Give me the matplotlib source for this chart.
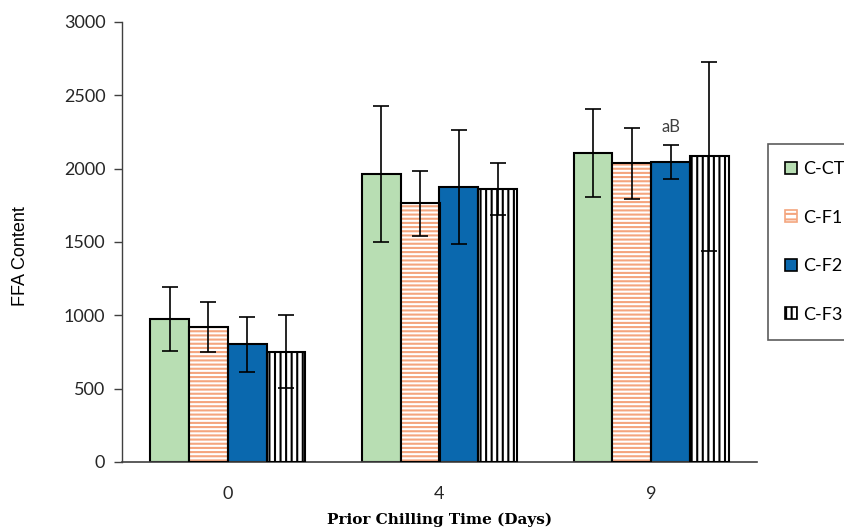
import numpy as np
import matplotlib
matplotlib.use("Agg")
import matplotlib.pyplot as plt
from matplotlib.patches import Patch

# Data
days = ["0", "4", "9"]
series = ["C-CT", "C-F1", "C-F2", "C-F3"]
ffa_ct = [975, 1963, 2108]
ffa_f1 = [922, 1764, 2036]
ffa_f2 = [802, 1873, 2045]
ffa_f3 = [752, 1863, 2084]
err_ct = [215, 462, 302]
err_f1 = [172, 223, 242]
err_f2 = [188, 388, 117]
err_f3 = [249, 178, 642]
note_text = "aB"

values = [ffa_ct, ffa_f1, ffa_f2, ffa_f3]
errors = [err_ct, err_f1, err_f2, err_f3]

# fill, hatch, hatch colour
styles = [
    ("#b8deb3", None, None),
    ("white", "----", "#f4a57e"),
    ("#0a68ae", None, None),
    ("white", "|||", "black"),
]

plt.rcParams["hatch.linewidth"] = 1.5

fig = plt.figure(figsize=(8.44, 5.30), dpi=100)
ax = fig.add_axes([122 / 844, 68 / 530, 635 / 844, 440 / 530])

x = np.arange(len(days))
width = 0.183
offsets = (np.arange(len(series)) - 1.5) * width

handles = []
for i, name in enumerate(series):
    fill, hatch, hcol = styles[i]
    pos = x + offsets[i]
    if hatch:
        # hatch drawn in its own colour, black outline on top
        ax.bar(pos, values[i], width, color=fill, edgecolor=hcol,
               hatch=hatch, linewidth=0, zorder=2)
        ax.bar(pos, values[i], width, fill=False, edgecolor="black",
               linewidth=1.5, zorder=3)
    else:
        ax.bar(pos, values[i], width, color=fill, edgecolor="black",
               linewidth=1.5, zorder=2)
    ax.errorbar(pos, values[i], yerr=errors[i], fmt="none", ecolor="black",
                elinewidth=1.2, capsize=6, capthick=1.2, zorder=4)
    handles.append(Patch(facecolor=fill, edgecolor="black" if not hatch else hcol,
                         hatch=hatch, linewidth=1.2, label=name))

handles[1] = Patch(facecolor="white", edgecolor="#f4a57e", hatch="---",
                   linewidth=1.2, label=series[1])

# annotation over C-F2 at day 9
ax.text(x[2] + offsets[2], ffa_f2[2] + err_f2[2] + 70, note_text,
        ha="center", va="bottom", fontsize=12, color="#404040",
        family="Lato")

ax.set_xlim(-0.5, 2.5)
ax.set_ylim(0, 3000)
ax.set_yticks(np.arange(0, 3001, 500))
ax.set_xticks(x)
ax.set_xticklabels(days)
for lab in ax.get_xticklabels() + ax.get_yticklabels():
    lab.set_family("Lato")
    lab.set_fontsize(13)
    lab.set_color("#262626")
ax.tick_params(axis="x", length=0, pad=17)
ax.tick_params(axis="y", length=6, width=1, direction="out", color="#404040", pad=6)

ax.spines["top"].set_visible(False)
ax.spines["right"].set_visible(False)
ax.spines["left"].set_color("#404040")
ax.spines["bottom"].set_color("#404040")
ax.spines["left"].set_linewidth(1)
ax.spines["bottom"].set_linewidth(1.2)

ax.set_ylabel("FFA Content", family="Liberation Sans", fontsize=13)
ax.yaxis.set_label_coords(-0.146, 0.468)
ax.set_xlabel("Prior Chilling Time (Days)", family="DejaVu Serif",
              fontweight="bold", fontsize=11, labelpad=8)

leg = fig.legend(handles=handles, loc="upper left",
                 bbox_to_anchor=(768 / 844, 1 - 144 / 530),
                 frameon=True, fancybox=False, edgecolor="#333333",
                 handlelength=0.65, handleheight=0.65, handletextpad=0.35,
                 labelspacing=1.8, borderpad=0.95, borderaxespad=0,
                 prop={"family": "Lato", "size": 13})
leg.get_frame().set_linewidth(1.2)

fig.savefig("out.png", dpi=100)
